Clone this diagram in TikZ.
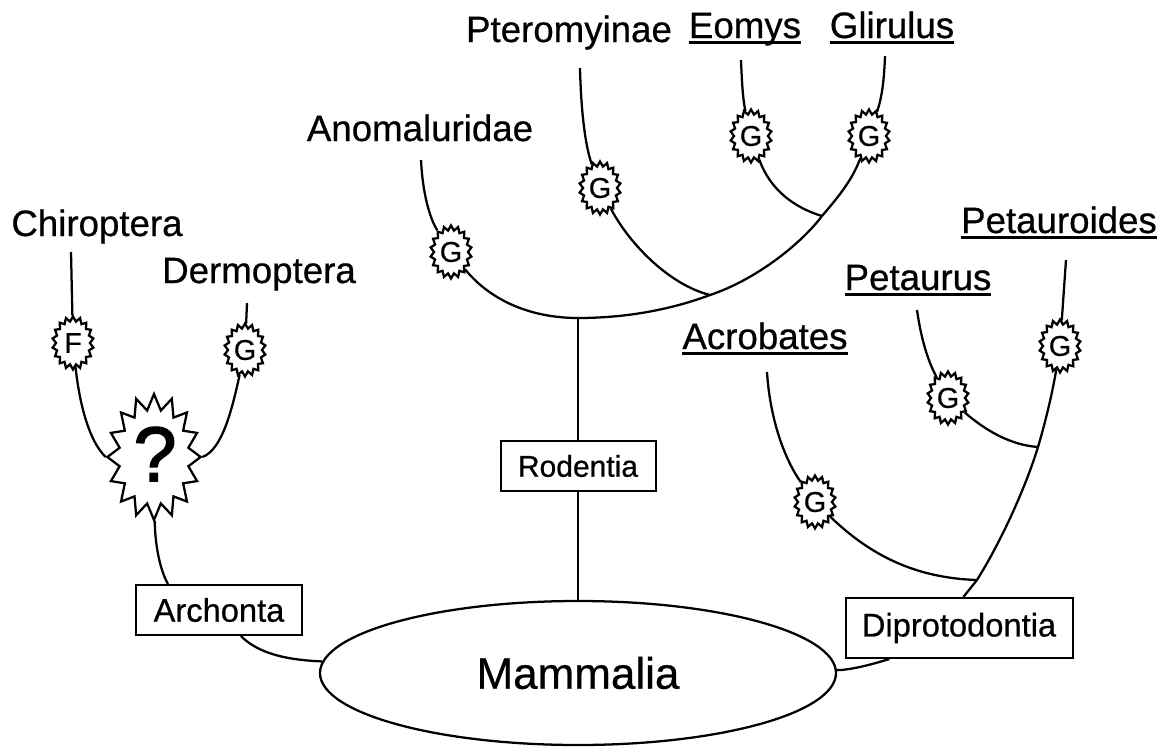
\documentclass[tikz,border=0pt]{standalone}
\usepackage{fontspec}
\setmainfont[FakeBold=0.6]{Liberation Sans}
\newfontfamily\qfont[FakeBold=2]{Liberation Sans}
\usetikzlibrary{shapes.geometric}
\newcommand\ulbl[1]{\setbox0\hbox{#1}\rlap{\rule[-4.2pt]{\wd0}{1.9pt}}\box0}
\tikzset{
  lnk/.style={line width=1.7pt},
  taxon/.style={anchor=base,inner sep=0pt,font=\fontsize{27.5}{30}\selectfont},
  box/.style={draw,line width=1.5pt,fill=white,inner sep=0pt,font=\fontsize{24.5}{28}\selectfont},
  gstar/.style={draw,line width=1.7pt,fill=white,star,star points=18,star point ratio=1.22,inner sep=0pt,minimum size=53*0.75pt,xscale=.78,transform shape},
  bigstar/.style={draw,line width=1.7pt,fill=white,star,star points=16,star point ratio=1.33,inner sep=0pt,minimum size=126*0.75pt,xscale=.74,transform shape},
  gl/.style={inner sep=0pt,font=\fontsize{21.5}{24}\selectfont},
}
\begin{document}
\begin{tikzpicture}[x=0.75pt,y=-0.75pt]
\useasboundingbox[fill=white] (0,0) rectangle (1165,750);
% taxa labels
\node[taxon] (chi) at (97,236) {Chiroptera};
\node[taxon] (der) at (259,283) {Dermoptera};
\node[taxon] (ano) at (420,141) {Anomaluridae};
\node[taxon] (pte) at (569,42) {Pteromyinae};
\node[taxon] (eom) at (745,38) {\ulbl{Eomys}};
\node[taxon] (gli) at (892,38) {\ulbl{Glirulus}};
\node[taxon] (pts) at (1059,233) {\ulbl{Petauroides}};
\node[taxon] (ptr) at (918,290) {\ulbl{Petaurus}};
\node[taxon] (acr) at (765,349) {\ulbl{Acrobates}};
% free ends
\coordinate (chit) at (71,252);
\coordinate (dert) at (247,303);
\coordinate (anot) at (421,160);
\coordinate (ptet) at (580,68);
\coordinate (eomt) at (741,60);
\coordinate (glit) at (885,56);
\coordinate (ptst) at (1066,260);
\coordinate (ptrt) at (917,310);
\coordinate (acrt) at (767,372);
\coordinate (j1) at (578,318);
\coordinate (j2) at (710,295);
\coordinate (j3) at (822,216);
\coordinate (j4) at (1038,447);
\coordinate (j5) at (977,580);
% main nodes
\node[draw,line width=1.7pt,fill=white,ellipse,minimum width=516*0.75pt,minimum height=144*0.75pt,inner sep=0pt,font=\fontsize{33}{36}\selectfont] (mam) at (578,673) {Mammalia};
\node[box,minimum width=166*0.75pt,minimum height=50*0.75pt] (arc) at (219,610) {Archonta};
\node[box,minimum width=155*0.75pt,minimum height=50*0.75pt,font=\fontsize{22.5}{28}\selectfont] (rod) at (578,466) {Rodentia};
\node[box,minimum width=227*0.75pt,minimum height=60*0.75pt] (dip) at (959,628) {Diprotodontia};
\node[bigstar] (q) at (154,457) {};
\node[inner sep=0pt,font=\qfont\fontsize{58}{66}\selectfont] (qt) at (155,454) {?};
\node[gstar] (sf) at (73,343) {};   \node[gl] at (73,343) {F};
\node[gstar] (sd) at (245,350) {};  \node[gl] at (245,350) {G};
\node[gstar] (sa) at (451,252) {};  \node[gl] at (451,252) {G};
\node[gstar] (sp) at (600,188) {};  \node[gl] at (600,188) {G};
\node[gstar] (se) at (751,136) {};  \node[gl] at (751,136) {G};
\node[gstar] (sg) at (869,136) {};  \node[gl] at (869,136) {G};
\node[gstar] (st) at (1060,346) {}; \node[gl] at (1060,346) {G};
\node[gstar] (sr) at (948,398) {};  \node[gl] at (948,398) {G};
\node[gstar] (sc) at (815,502) {};  \node[gl] at (815,502) {G};
% connectors
\begin{scope}[lnk]
\draw (chit) -- (sf);
\draw (dert) -- (sd);
\draw (sf) .. controls (79,400) and (88,440) .. (q.west);
\draw (sd) .. controls (232,410) and (222,450) .. (q.east);
\draw (q) .. controls (155,545) and (160,570) .. (arc.153);
\draw (arc.310) .. controls (260,655) and (290,660) .. (mam);
\draw (j1) -- (rod);
\draw (rod) -- (mam);
\draw (anot) .. controls (423,200) and (432,222) .. (sa);
\draw (sa) .. controls (490,300) and (530,318) .. (j1) .. controls (625,318) and (670,310) .. (j2) .. controls (755,280) and (800,245) .. (j3);
\draw (j3) .. controls (840,195) and (852,180) .. (sg);
\draw (glit) .. controls (884,85) and (881,100) .. (sg);
\draw (eomt) .. controls (742,85) and (743,100) .. (se);
\draw (se) .. controls (770,190) and (795,208) .. (j3);
\draw (ptet) .. controls (581,110) and (585,145) .. (sp);
\draw (sp) .. controls (630,245) and (670,285) .. (j2);
\draw (acrt) .. controls (770,420) and (785,460) .. (sc);
\draw (sc) .. controls (870,555) and (915,578) .. (j5);
\draw (ptst) -- (st);
\draw (st) .. controls (1053,390) and (1046,420) .. (j4) .. controls (1028,480) and (1005,535) .. (j5);
\draw (j5) -- (dip.82);
\draw (ptrt) .. controls (922,345) and (930,365) .. (sr);
\draw (sr) .. controls (985,430) and (1010,445) .. (j4);
\draw (dip.204) .. controls (870,665) and (850,670) .. (mam);
\end{scope}
\end{tikzpicture}
\end{document}
